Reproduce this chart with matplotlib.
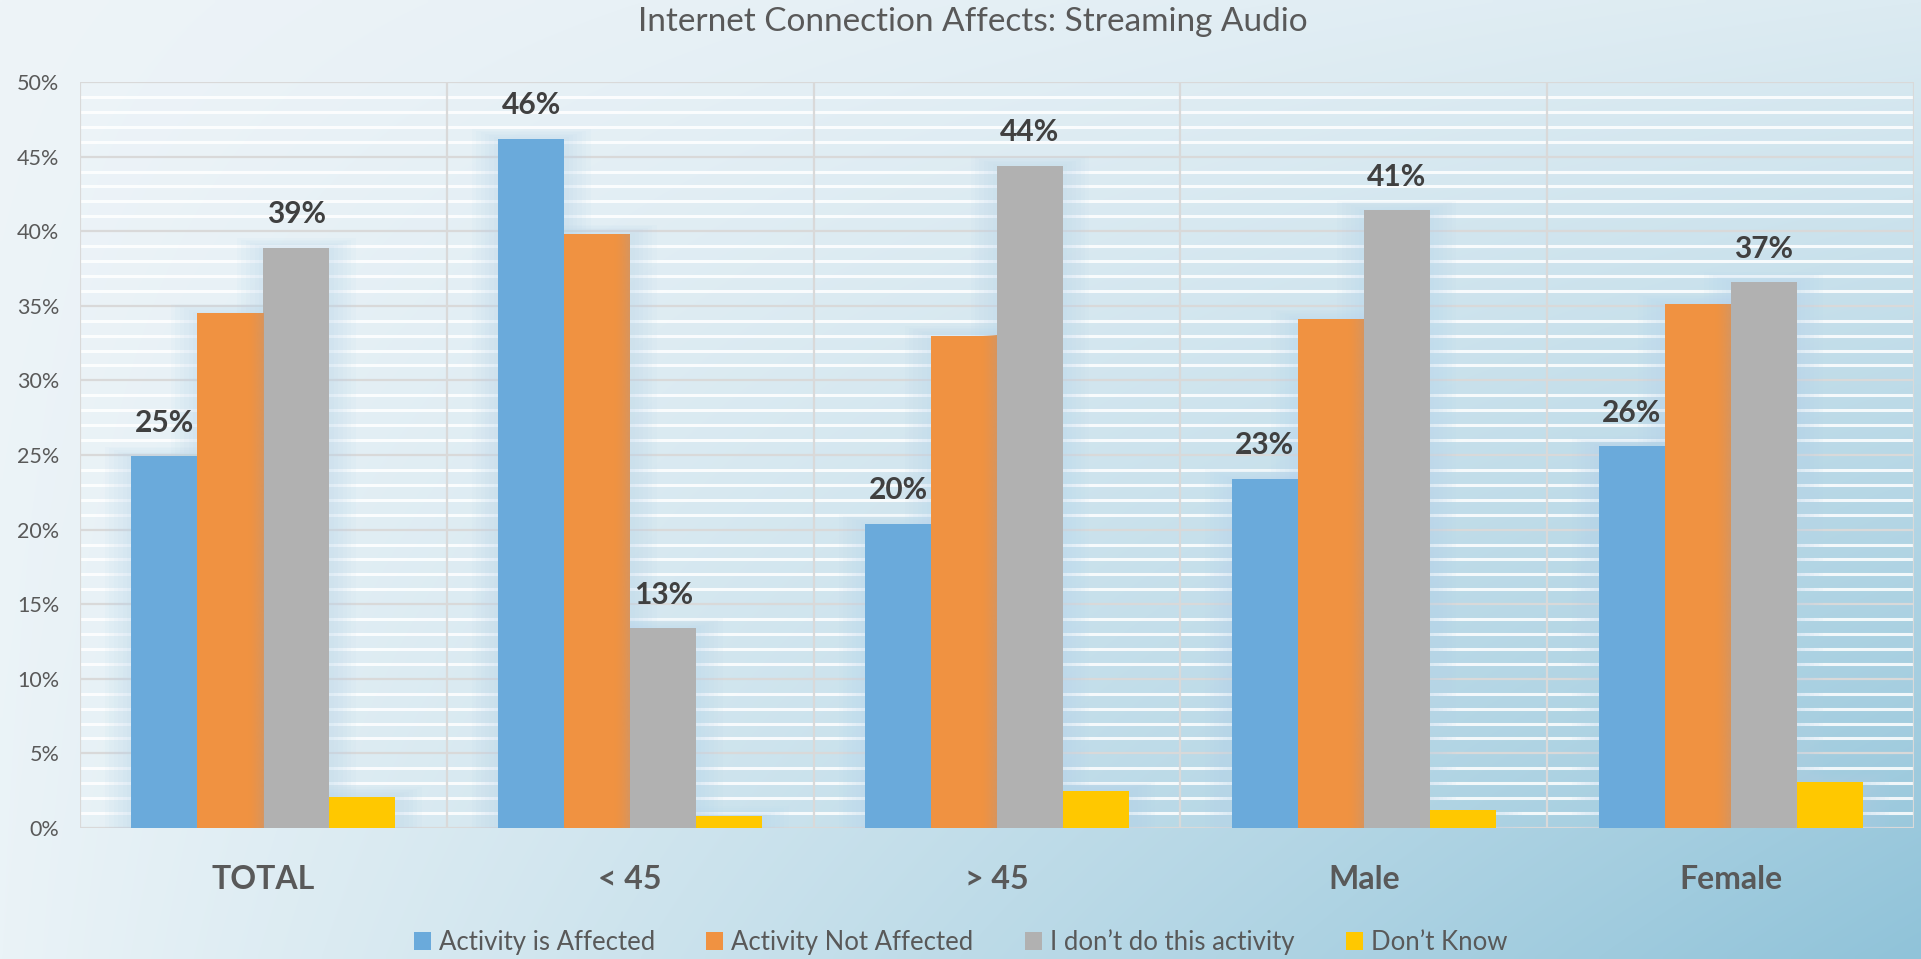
import numpy as np
import matplotlib.pyplot as plt
from matplotlib.patches import Patch, Rectangle
from matplotlib.colors import to_rgb

plt.rcParams['font.family'] = ['Lato', 'DejaVu Sans']

# survey results, percent of respondents
categories = ["TOTAL", "< 45", "> 45", "Male", "Female"]
series_names = ["Activity is Affected", "Activity Not Affected",
                "I don\u2019t do this activity", "Don\u2019t Know"]
affected = [24.9, 46.2, 20.4, 23.4, 25.6]
not_affected = [34.5, 39.8, 33.0, 34.1, 35.1]
dont_do = [38.9, 13.4, 44.4, 41.4, 36.6]
dont_know = [2.1, 0.8, 2.5, 1.2, 3.1]
series = [affected, not_affected, dont_do, dont_know]
colors = ["#6aaadb", "#f09241", "#b1b1b1", "#ffc800"]
labelled = [0, 2]  # series that get value labels

W, H = 1921, 959
fig = plt.figure(figsize=(W / 100, H / 100), dpi=100)

# soft diagonal background gradient
bg = fig.add_axes([0, 0, 1, 1], zorder=-10)
tl, tr = np.array(to_rgb("#eef4f8")), np.array(to_rgb("#dcebf2"))
bl, br = np.array(to_rgb("#eaf3f7")), np.array(to_rgb("#90c3d9"))
u = np.linspace(0, 1, 400)[None, :, None]
v = np.linspace(0, 1, 200)[:, None, None]
img = (1 - v) * ((1 - u) * tl + u * tr) + v * ((1 - u) * bl + u * br)
bg.imshow(img, aspect="auto", extent=[0, 1, 0, 1], interpolation="bilinear")
bg.axis("off")

ax = fig.add_axes([80 / W, 1 - 828 / H, (1914 - 80) / W, (828 - 82) / H])
ax.set_facecolor("none")

x = np.arange(len(categories))
bw = 0.18
offsets = np.array([-1.5, -0.5, 0.5, 1.5]) * bw

# glow behind each bar
for i, vals in enumerate(series):
    for xi, val in zip(x + offsets[i], vals):
        for k in range(1, 7):
            pad = 0.012 * k
            ax.add_patch(Rectangle((xi - bw / 2 - pad, 0), bw + 2 * pad, val + pad * 9,
                                   facecolor="#b6d5ec", alpha=0.07, lw=0, zorder=2))

for i, vals in enumerate(series):
    ax.bar(x + offsets[i], vals, width=bw, color=colors[i], zorder=3,
           label=series_names[i])
    if i in labelled:
        for xi, val in zip(x + offsets[i], vals):
            ax.text(xi, val + 1.3, f"{val:.0f}%", ha="center", va="bottom",
                    fontsize=21.5, fontweight="bold", color="#404040", zorder=5)

# shaded right edge on the orange bars
edge = np.zeros((1, 50, 4))
edge[..., :3] = to_rgb("#d8955e")
edge[..., 3] = np.linspace(0, 1, 50) ** 1.5
for xi, val in zip(x + offsets[1], not_affected):
    x1 = xi + bw / 2
    ax.imshow(edge, extent=[x1 - bw * 0.24, x1, 0, val], aspect="auto",
              interpolation="bilinear", zorder=4)

# grid: white minor lines every 1%, grey majors every 5%
for yv in range(1, 50):
    if yv % 5:
        ax.axhline(yv, color="white", lw=2.2, alpha=0.85, zorder=1)
for yv in range(0, 51, 5):
    ax.axhline(yv, color="#d9d9d9", lw=1.6, zorder=1)
for xv in np.arange(-0.5, len(categories), 1.0):
    ax.axvline(xv, color="#d9d9d9", lw=1.6, zorder=1)

ax.set_xlim(-0.5, len(categories) - 0.5)
ax.set_ylim(0, 50)
ax.set_yticks(range(0, 51, 5))
ax.set_yticklabels([f"{t}%" for t in range(0, 51, 5)], fontsize=15.5, color="#595959")
ax.set_xticks(x)
ax.set_xticklabels(categories, fontsize=23, fontweight="bold", color="#595959")
ax.tick_params(axis="both", length=0)
ax.tick_params(axis="x", pad=26.5)
ax.tick_params(axis="y", pad=15)
for s in ax.spines.values():
    s.set_visible(False)

fig.text(0.5065, 1 - 22 / H, "Internet Connection Affects: Streaming Audio",
         ha="center", va="center", fontsize=24, color="#595959")

handles = [Patch(facecolor=c, label=n) for c, n in zip(colors, series_names)]
fig.legend(handles=handles, loc="center", bbox_to_anchor=(0.5, 1 - 942 / H),
           ncol=4, frameon=False, fontsize=18.5, handlelength=0.66, handleheight=0.66,
           handletextpad=0.31, columnspacing=2.0, labelcolor="#595959",
           borderpad=0, borderaxespad=0)

fig.savefig("out.png", dpi=100)
